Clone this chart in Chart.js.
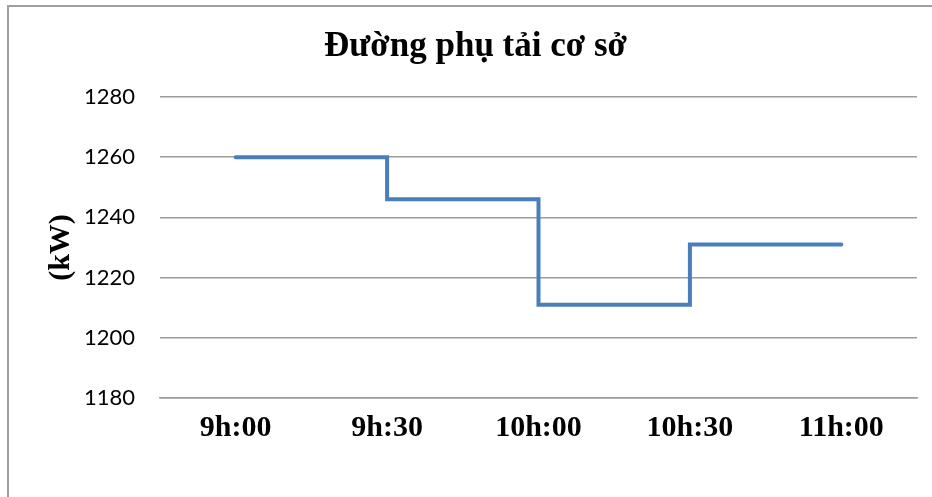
<!DOCTYPE html>
<html>
<head>
<meta charset="utf-8">
<script src="https://cdn.jsdelivr.net/npm/chart.js@4"></script>
<style>
  body { margin: 0; background: #fff; overflow: hidden; }
  #frame {
    position: absolute; left: 7px; top: 5px; right: -10px; bottom: -10px;
    border-left: 2px solid #a0a0a0; border-top: 2px solid #a0a0a0;
  }
  #myChart { position: absolute; left: 0; top: 0; }
</style>
</head>
<body>
<div id="frame"></div>
<canvas id="myChart" width="932" height="497"></canvas>
<script>
const timeLabels = ["9h:00", "9h:30", "10h:00", "10h:30", "11h:00"];
const loadValues = [1260, 1246, 1211, 1231, 1231];
const yMin = 1180;
const yMax = 1280;
const yStep = 20;

const gridColor = "#9c9c9c";
const ctx = document.getElementById("myChart");

new Chart(ctx, {
  type: "line",
  data: {
    labels: timeLabels,
    datasets: [
      {
        label: "Phụ tải",
        data: loadValues,
        stepped: true,
        borderColor: "#4a7ebb",
        borderWidth: 4,
        borderCapStyle: "round",
        borderJoinStyle: "miter",
        pointRadius: 0,
        fill: false,
      },
    ],
  },
  options: {
    responsive: false,
    animation: false,
    devicePixelRatio: 1,
    layout: { padding: { left: 34, right: 15, top: 0, bottom: 0 } },
    plugins: {
      legend: { display: false },
      tooltip: { enabled: false },
      title: {
        display: true,
        text: "Đường phụ tải cơ sở",
        color: "#000",
        font: { family: "'Liberation Serif', 'Times New Roman', serif", size: 35, weight: "bold" },
        padding: { top: 26, bottom: 29 },
      },
    },
    scales: {
      x: {
        offset: true,
        grid: { display: false },
        border: { display: true, color: gridColor, width: 1.5 },
        ticks: {
          color: "#000",
          padding: 4,
          font: { family: "'Liberation Serif', 'Times New Roman', serif", size: 30, weight: "bold" },
        },
        afterFit: (scale) => { scale.height = 99; },
      },
      y: {
        min: yMin,
        max: yMax,
        grid: { color: gridColor, lineWidth: 1.5, drawTicks: false },
        border: { display: false },
        ticks: {
          stepSize: yStep,
          color: "#000",
          padding: 25,
          font: { family: "Lato, 'Liberation Sans', sans-serif", size: 22 },
          callback: (value) => String(value),
        },
        title: {
          display: true,
          text: "(kW)",
          color: "#000",
          font: { family: "'Liberation Serif', 'Times New Roman', serif", size: 30, weight: "bold" },
          padding: { top: 9, bottom: 0 },
        },
        afterFit: (scale) => { scale.width = 126; },
      },
    },
  },
});
</script>
</body>
</html>
